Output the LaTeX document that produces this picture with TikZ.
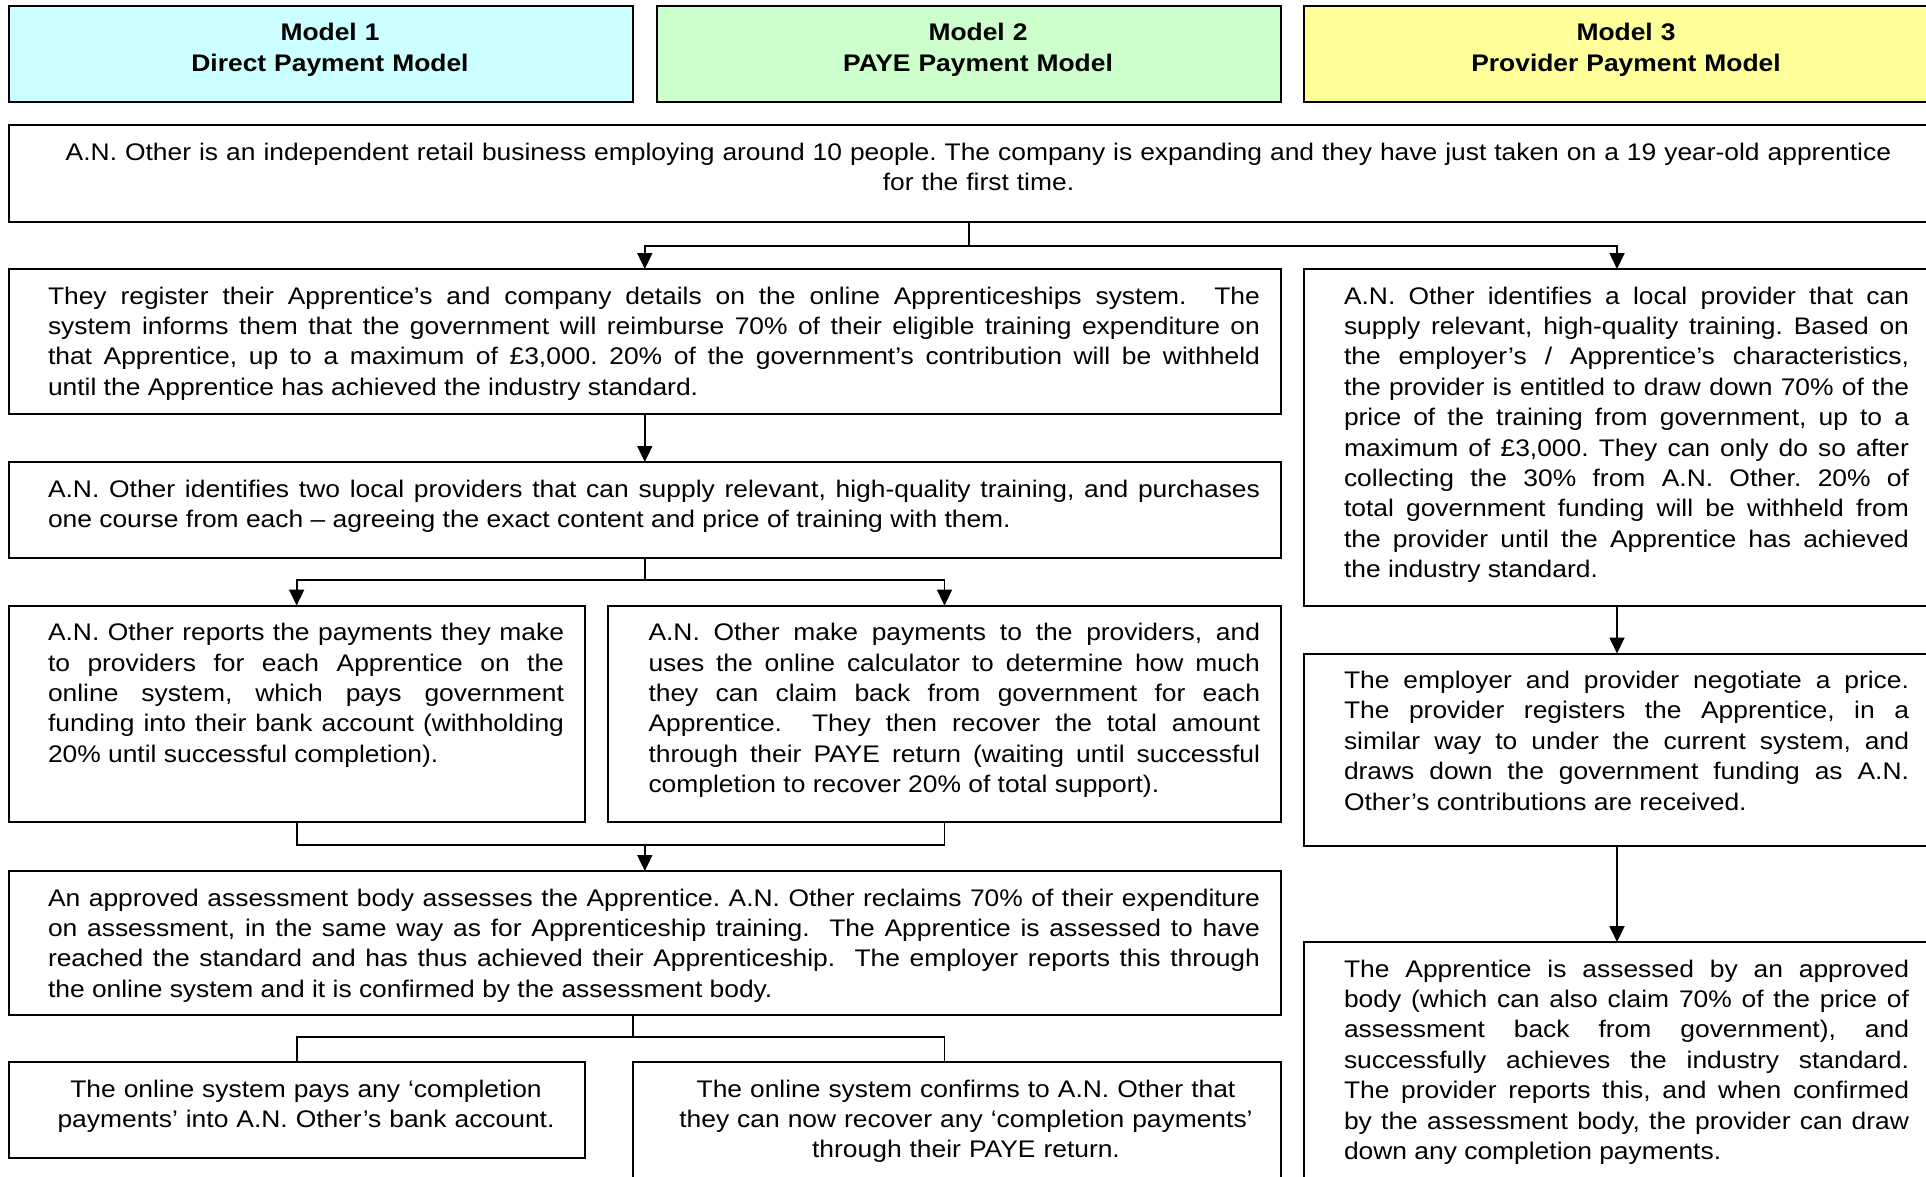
\documentclass[tikz,border=0pt]{standalone}
\usepackage{fontspec}
\setmainfont{Liberation Sans}[FakeStretch=1.1]
\usetikzlibrary{arrows.meta,fit,calc}
\definecolor{mcyan}{HTML}{CCFFFF}
\definecolor{mgreen}{HTML}{CCFFCC}
\definecolor{myellow}{HTML}{FFFF99}
\tikzset{
  panel/.style={draw=black, line width=1pt, inner sep=0pt, outer sep=0pt},
  txt/.style={inner sep=0pt, outer sep=0pt, anchor=north west, font=\fontsize{12}{15.2}\selectfont},
  jtxt/.style={txt, align=justify},
  ctxt/.style={txt, align=center, anchor=north},
  htxt/.style={ctxt, font=\fontsize{12}{15.2}\selectfont\bfseries},
  conn/.style={line width=0.9pt},
  arr/.style={conn, -{Triangle[length=8pt,width=7.5pt]}},
}
\newcommand\panelbox[6]{%
  \coordinate (#1nw) at (#2,#3);
  \coordinate (#1se) at (#4,#5);
  \node[panel, fill=#6, fit=(#1nw)(#1se)] (#1) {};}
\frenchspacing
\begin{document}
\begin{tikzpicture}[x=0.5pt,y=-0.5pt]
\useasboundingbox (0,0) rectangle (1926,1177);
\clip (0,0) rectangle (1926,1177);
\fill[white] (0,0) rectangle (1926,1177);
\tolerance=9999 \emergencystretch=2em \hyphenpenalty=10000

% header boxes
\panelbox{M1}{8.6}{6}{632.6}{101.7}{mcyan}
\panelbox{M2}{657}{6}{1281}{101.7}{mgreen}
\panelbox{M3}{1304}{6}{1930}{101.7}{myellow}
\node[htxt, text width=300pt] (tM1) at (330,19.72) {\strut Model 1\\Direct Payment Model};
\node[htxt, text width=300pt] (tM2) at (978,19.72) {\strut Model 2\\PAYE Payment Model};
\node[htxt, text width=300pt] (tM3) at (1626,19.72) {\strut Model 3\\Provider Payment Model};

% boxes
\panelbox{intro}{8.6}{125}{1930}{222}{white}
\panelbox{A}{8.6}{269}{1281}{414}{white}
\panelbox{B}{8.6}{462}{1281}{558}{white}
\panelbox{C1}{8.6}{605.6}{584.7}{821.7}{white}
\panelbox{C2}{608}{605.6}{1281}{821.7}{white}
\panelbox{D}{8.6}{871}{1281}{1014.6}{white}
\panelbox{E1}{8.6}{1062}{584.7}{1158}{white}
\panelbox{E2}{632.6}{1062}{1281}{1195}{white}
\panelbox{R1}{1304}{269}{1930}{605.6}{white}
\panelbox{R2}{1304}{653.5}{1930}{845.7}{white}
\panelbox{R3}{1304}{942}{1930}{1195}{white}

% texts
\node[ctxt, text width=950pt] (tintro) at (978.5,138.72) {\strut A.N. Other is an independent retail business employing around 10 people. The company is expanding and they have just taken on a 19 year-old apprentice\\for the first time.};

\node[jtxt, text width=606pt] (tA) at (48,282.72) {\strut They register their Apprentice’s and company details on the online Apprenticeships system.\ \ The\linebreak system informs them that the government will reimburse 70\% of their eligible training expenditure on\linebreak that Apprentice, up to a maximum of £3,000. 20\% of the government’s contribution will be withheld\linebreak until the Apprentice has achieved the industry standard.};

\node[jtxt, text width=606pt] (tB) at (48,475.72) {\strut A.N. Other identifies two local providers that can supply relevant, high-quality training, and purchases\linebreak one course from each – agreeing the exact content and price of training with them.};

\node[jtxt, text width=258pt] (tC1) at (48,619.32) {\strut A.N. Other reports the payments they make\linebreak to providers for each Apprentice on the\linebreak online system, which pays government\linebreak funding into their bank account (withholding\linebreak 20\% until successful completion).};

\node[jtxt, text width=305.75pt] (tC2) at (648.5,619.32) {\strut A.N. Other make payments to the providers, and\linebreak uses the online calculator to determine how much\linebreak they can claim back from government for each\linebreak Apprentice.\ \ They then recover the total amount\linebreak through their PAYE return (waiting until successful\linebreak completion to recover 20\% of total support).};

\node[jtxt, text width=606pt] (tD) at (48,884.72) {\strut An approved assessment body assesses the Apprentice. A.N. Other reclaims 70\% of their expenditure\linebreak on assessment, in the same way as for Apprenticeship training.\ \ The Apprentice is assessed to have\linebreak reached the standard and has thus achieved their Apprenticeship.\ \ The employer reports this through\linebreak the online system and it is confirmed by the assessment body.};

\node[ctxt, text width=280pt] (tE1) at (306,1075.72) {\strut The online system pays any ‘completion\\payments’ into A.N. Other’s bank account.};

\node[ctxt, text width=310pt] (tE2) at (966,1075.72) {\strut The online system confirms to A.N. Other that\\they can now recover any ‘completion payments’\\through their PAYE return.};

\node[jtxt, text width=282.5pt] (tR1) at (1344,282.72) {\strut A.N. Other identifies a local provider that can\linebreak supply relevant, high-quality training. Based on\linebreak the employer’s / Apprentice’s characteristics,\linebreak the provider is entitled to draw down 70\% of the\linebreak price of the training from government, up to a\linebreak maximum of £3,000. They can only do so after\linebreak collecting the 30\% from A.N. Other. 20\% of\linebreak total government funding will be withheld from\linebreak the provider until the Apprentice has achieved\linebreak the industry standard.};

\node[jtxt, text width=282.5pt] (tR2) at (1344,667.22) {\strut The employer and provider negotiate a price.\linebreak The provider registers the Apprentice, in a\linebreak similar way to under the current system, and\linebreak draws down the government funding as A.N.\linebreak Other’s contributions are received.};

\node[jtxt, text width=282.5pt] (tR3) at (1344,955.72) {\strut The Apprentice is assessed by an approved\linebreak body (which can also claim 70\% of the price of\linebreak assessment back from government), and\linebreak successfully achieves the industry standard.\linebreak The provider reports this, and when confirmed\linebreak by the assessment body, the provider can draw\linebreak down any completion payments.};

% connectors
\draw[conn] (intro.south) -- ++(0,23.7) coordinate (j1);
\draw[arr] (j1) -| (A.north);
\draw[arr] (j1) -| (R1.north);
\draw[arr] (A.south) -- (B.north);
\draw[conn] (B.south) -- ++(0,22) coordinate (j2);
\draw[arr] (j2) -| (C1.north);
\draw[arr] (j2) -| (C2.north);
\draw[conn] (C1.south) -- ++(0,23.3) coordinate (j3) -| (C2.south);
\draw[arr] (j3 -| D.north) -- (D.north);
\draw[conn] (D.south -| E2.west) -- ++(0,22.4) coordinate (j4);
\draw[conn] (j4) -| (E1.north);
\draw[conn] (j4) -| (C2.south |- E2.north);
\draw[arr] (R1.south) -- (R2.north);
\draw[arr] (R2.south) -- (R3.north);
\end{tikzpicture}
\end{document}
